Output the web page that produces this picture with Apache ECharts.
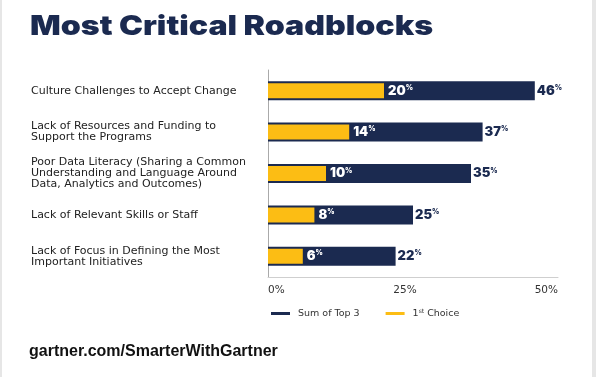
<!DOCTYPE html>
<html><head><meta charset="utf-8">
<script src="https://cdn.jsdelivr.net/npm/echarts@6/dist/echarts.min.js"></script>
<style>html,body{margin:0;padding:0;background:#fff}#c{width:596px;height:377px}</style>
</head><body><div id="c"></div>
<script>
const categories = [
  'Culture Challenges to Accept Change',
  'Lack of Resources and Funding to\nSupport the Programs',
  'Poor Data Literacy (Sharing a Common\nUnderstanding and Language Around\nData, Analytics and Outcomes)',
  'Lack of Relevant Skills or Staff',
  'Lack of Focus in Defining the Most\nImportant Initiatives'
];
const sumTop3 = [46, 37, 35, 25, 22];
const firstChoice = [20, 14, 10, 8, 6];
const xTicks = [0, 25, 50];
const seriesNames = ['Sum of Top 3', '1st Choice'];

const NAVY = '#1b2a50', YELLOW = '#fcbd14';
const chart = echarts.init(document.getElementById('c'));
const valRich = (color) => ({
  v: { fontFamily: 'Inter', fontWeight: 900, fontSize: 13, color: color },
  p: { fontFamily: 'Inter', fontWeight: 900, fontSize: 7, color: color, verticalAlign: 'top', padding: [0, 0, 6, 0] }
});
chart.setOption({
  animation: false,
  backgroundColor: '#fff',
  graphic: [
    { type: 'text', x: 30, y: 13, scaleX: 1.19, style: { text: 'Most Critical Roadblocks', font: '900 27px Inter', fill: NAVY, verticalAlign: 'top' } },
    { type: 'text', left: 29, top: 344, style: { text: 'gartner.com/SmarterWithGartner', font: 'bold 16px "Liberation Sans"', fill: '#111' } },
    { type: 'rect', shape: { x: 0, y: 0, width: 2, height: 377 }, style: { fill: '#e6e6e6' } },
    { type: 'rect', shape: { x: 592, y: 0, width: 4, height: 377 }, style: { fill: '#e6e6e6' } }
  ],
  legend: {
    left: 266, top: 303, itemWidth: 19, itemHeight: 3, itemGap: 26, icon: 'rect',
    data: seriesNames,
    formatter: n => n === '1st Choice' ? '1{s|st} Choice' : n,
    textStyle: {
      fontFamily: 'DejaVu Sans', fontSize: 9.5, color: '#333', padding: [0, 0, 0, 3],
      rich: { s: { fontFamily: 'DejaVu Sans', fontSize: 6, color: '#333', verticalAlign: 'top', padding: [0, 0, 5, 0] } }
    }
  },
  grid: { left: 268, right: 38, top: 70, bottom: 100, containLabel: false },
  xAxis: {
    type: 'value', min: 0, max: 50, interval: 25,
    splitLine: { show: false },
    axisLine: { show: true, lineStyle: { color: '#cfcfcf' } },
    axisTick: { show: false },
    axisLabel: {
      margin: 8, fontFamily: 'DejaVu Sans', fontSize: 10.5, color: '#333',
      alignMinLabel: 'left', alignMaxLabel: 'right',
      formatter: v => v === 25 ? '{m|' + v + '%}' : (xTicks.includes(v) ? v + '%' : ''),
      rich: {
        m: { fontFamily: 'DejaVu Sans', fontSize: 10.5, color: '#333', padding: [0, 16, 0, 0] }
      }
    }
  },
  yAxis: [
    {
      type: 'category', data: categories, inverse: true,
      axisLine: { show: true, lineStyle: { color: '#aaa' } },
      axisTick: { show: false },
      axisLabel: { align: 'left', margin: 237, fontFamily: 'DejaVu Sans', fontSize: 11, lineHeight: 11, color: '#222' }
    },
    { type: 'category', data: categories, inverse: true, show: false }
  ],
  series: [
    {
      name: seriesNames[0], type: 'bar', yAxisIndex: 0, data: sumTop3, barWidth: 19,
      itemStyle: { color: NAVY },
      label: { show: true, position: 'right', distance: 2, formatter: p => '{v|' + p.value + '}{p|%}', rich: valRich(NAVY) }
    },
    {
      name: seriesNames[1], type: 'bar', yAxisIndex: 1, data: firstChoice, barWidth: 15,
      itemStyle: { color: YELLOW },
      label: { show: true, position: 'right', distance: 4, formatter: p => '{v|' + p.value + '}{p|%}', rich: valRich('#fff') }
    }
  ]
});
</script></body></html>
